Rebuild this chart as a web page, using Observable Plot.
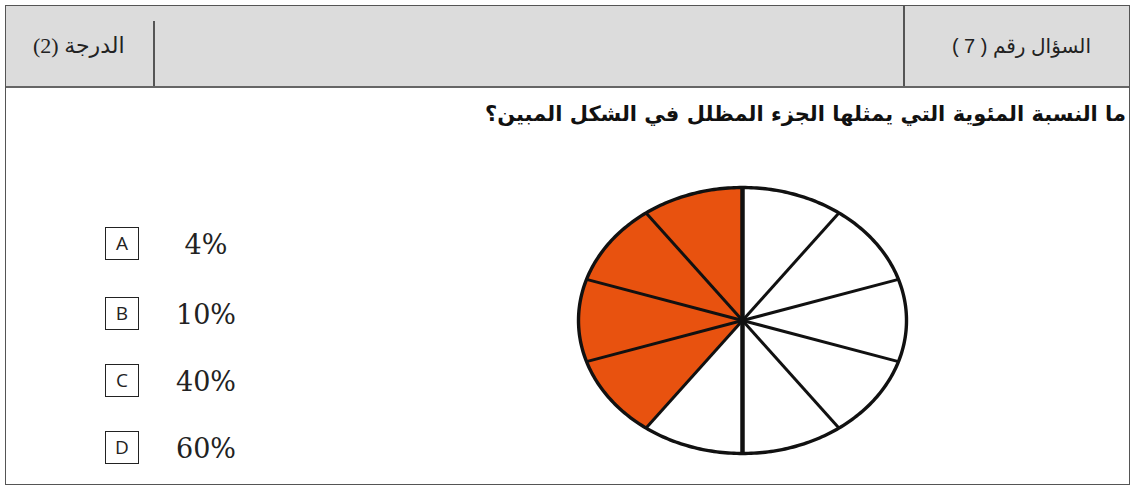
<!DOCTYPE html>
<html lang="ar">
<head>
<meta charset="utf-8">
<script src="https://cdn.jsdelivr.net/npm/d3@7"></script>
<script src="https://cdn.jsdelivr.net/npm/@observablehq/plot@0.6"></script>
<style>
  html, body { margin: 0; padding: 0; background: #fff; width: 1137px; height: 487px; overflow: hidden; }
  #frame { position: absolute; left: 5px; top: 5px; width: 1125px; height: 480px; border: 1.5px solid #555; box-sizing: border-box; }
  #header { position: absolute; left: 0; top: 0; width: 100%; height: 82px; background: #dcdcdc; border-bottom: 2px solid #666; box-sizing: border-box; }
  .div { position: absolute; width: 1.5px; background: #555; }
  .htxt { position: absolute; top: 0; height: 80px; color: #222; white-space: nowrap; direction: rtl; }
  #q { position: absolute; right: 3px; top: 96px; font: bold 21px "DejaVu Sans", sans-serif; direction: rtl; color: #111; white-space: nowrap; }
  .box { position: absolute; left: 99px; width: 34px; height: 33px; border: 1.6px solid #222; box-sizing: border-box; font: 19px "Open Sans", "DejaVu Sans", sans-serif; text-align: center; line-height: 30px; color: #222; }
  .val { position: absolute; left: 150px; width: 100px; text-align: center; font: 27px "DejaVu Serif", serif; line-height: 32px; color: #222; }
  #pie { position: absolute; left: 567px; top: 175px; }
</style>
</head>
<body>
<div id="frame">
  <div id="header">
    <div class="div" style="left:147px; top:15px; height:65px"></div>
    <div class="div" style="left:897px; top:0px; height:80px"></div>
    <div class="htxt" id="grade" style="left:27px; font: 22px 'Liberation Serif','DejaVu Sans',serif; line-height: 80px;"></div>
    <div class="htxt" id="qnum" style="right:38px; font: 20px 'Liberation Sans','DejaVu Sans',sans-serif; line-height: 80px;"></div>
  </div>
  <div id="q"></div>
  <div id="opts"></div>
</div>
<div id="pie"></div>
<script>
// ---- data ----
const headerLabels = ["السؤال رقم ( 7 )", "الدرجة (2)"];
const questionText = "ما النسبة المئوية التي يمثلها الجزء المظلل في الشكل المبين؟";
const optionLetters = ["A", "B", "C", "D"];
const optionValues = ["4%", "10%", "40%", "60%"];
const sliceIds = [0, 1, 2, 3, 4, 5, 6, 7, 8, 9];           // 10 equal parts, clockwise from top
const sliceShaded = [false, false, false, false, false, false, true, true, true, true];

// ---- text parts ----
document.getElementById("qnum").textContent = headerLabels[0];
document.getElementById("grade").textContent = headerLabels[1];
document.getElementById("q").textContent = questionText;
const opts = document.getElementById("opts");
const optTops = [221, 291, 358, 425];
optionLetters.forEach((l, i) => {
  const b = document.createElement("div");
  b.className = "box"; b.style.top = optTops[i] + "px"; b.textContent = l;
  opts.appendChild(b);
  const v = document.createElement("div");
  v.className = "val"; v.style.top = (optTops[i] + 2) + "px"; v.textContent = optionValues[i];
  opts.appendChild(v);
});

// ---- pie geometry derived from the slice list ----
const n = sliceIds.length;
const step = 2 * Math.PI / n;
const pt = a => ({ x: Math.sin(a), y: Math.cos(a) });
const polys = [];
sliceIds.forEach((id, i) => {
  const a0 = i * step, a1 = (i + 1) * step;
  polys.push({ slice: id, shaded: sliceShaded[i], x: 0, y: 0 });
  for (let k = 0; k <= 24; k++) polys.push({ slice: id, shaded: sliceShaded[i], ...pt(a0 + (a1 - a0) * k / 24) });
  polys.push({ slice: id, shaded: sliceShaded[i], x: 0, y: 0 });
});
const rim = d3.range(0, 361).map(k => pt(k * Math.PI / 180));
const spokes = sliceIds.map((id, i) => ({ id, ...pt(i * step) }));

const chart = Plot.plot({
  width: 350, height: 290,
  margin: 0,
  x: { domain: [-1, 1], range: [11, 339], axis: null },
  y: { domain: [-1, 1], range: [278, 12], axis: null },
  marks: [
    Plot.line(polys.filter(d => d.shaded), { x: "x", y: "y", z: "slice", fill: "#e8520f", stroke: "#e8520f", strokeWidth: 0.5 }),
    Plot.line(polys.filter(d => !d.shaded), { x: "x", y: "y", z: "slice", fill: "#ffffff", stroke: "none" }),
    Plot.link(spokes, { x1: 0, y1: 0, x2: "x", y2: "y", stroke: "#111", strokeWidth: d => (d.id % 5 === 0 ? 4.5 : 3), strokeLinecap: "butt" }),
    Plot.line(rim, { x: "x", y: "y", stroke: "#111", strokeWidth: 3.4 })
  ]
});
document.getElementById("pie").appendChild(chart);
</script>
</body>
</html>
